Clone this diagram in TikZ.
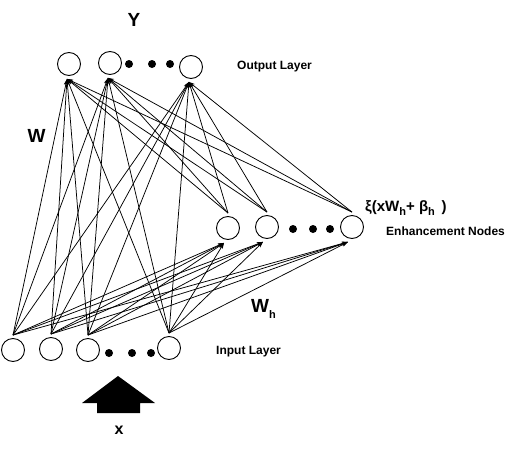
\documentclass[tikz,border=0pt]{standalone}
\usepackage{fontspec}
\setmainfont{Liberation Sans}
\usetikzlibrary{arrows.meta}
\newcommand\mysub[1]{\raisebox{-0.3em}{\fontsize{11}{11}\selectfont #1}}
\begin{document}
\begin{tikzpicture}[x=1pt,y=-1pt,
  neuron/.style={circle,draw,line width=0.9pt,minimum size=23pt,inner sep=0pt},
  dotn/.style={circle,fill,inner sep=0pt,minimum size=8pt},
  link/.style={line width=0.75pt,-{Stealth[length=6pt,width=4pt]}},
  lbl/.style={font=\bfseries\fontsize{12}{13}\selectfont,inner sep=0pt},
  big/.style={font=\bfseries\fontsize{19}{20}\selectfont,inner sep=0pt}]
\useasboundingbox (0,0) rectangle (525,450);
% output layer
\node[neuron] (o1) at (69,64) {};
\node[neuron] (o2) at (110,63) {};
\node[neuron] (o3) at (191,67) {};
\node[dotn] (od1) at (129,64) {};
\node[dotn] (od2) at (152,64) {};
\node[dotn] (od3) at (170,64) {};
% enhancement nodes
\node[neuron] (e1) at (228,228) {};
\node[neuron] (e2) at (267,227) {};
\node[neuron] (e3) at (352,227) {};
\node[dotn] (ed1) at (293,229) {};
\node[dotn] (ed2) at (313,229) {};
\node[dotn] (ed3) at (330,229) {};
% input layer
\node[neuron] (i1) at (13,350) {};
\node[neuron] (i2) at (51,349) {};
\node[neuron] (i3) at (88,350) {};
\node[neuron] (i4) at (169,348) {};
\node[dotn] (id1) at (109,353) {};
\node[dotn] (id2) at (132,353) {};
\node[dotn] (id3) at (151,353) {};
% connection points
\foreach \k in {1,...,4} \coordinate (it\k) at ([yshift=3pt]i\k.north);
\foreach \k in {1,2,3} {
  \coordinate (ob\k) at ([xshift=-2pt,yshift=-3pt]o\k.south);
  \coordinate (et\k) at ([yshift=3pt]e\k.north);
  \coordinate (eb\k) at ([xshift=-4pt,yshift=-3pt]e\k.south);
}
% links
\foreach \k in {1,...,4} \foreach \m in {1,2,3} {
  \draw[link] (it\k) -- (ob\m);
  \draw[link] (it\k) -- (eb\m);
}
\foreach \k in {1,2,3} \foreach \m in {1,2,3}
  \draw[link] (et\k) -- (ob\m);
% input arrow
\fill (118,376) -- (155,403) -- (140,403) -- (140,413) -- (97,413) -- (97,403) -- (82,403) -- cycle;
% labels
\node[big] (ly) at (134,20) {Y};
\node[lbl,anchor=west] (lout) at (237,67) {Output Layer};
\node[big] (lw) at (36.5,136) {W};
\node[font=\bfseries\fontsize{15}{16}\selectfont,inner sep=0pt,anchor=west] (lxi) at (365,208) {ξ(xW\mysub{h}+ β\mysub{h} \,)};
\node[lbl,anchor=west] (lenh) at (386,231) {Enhancement Nodes};
\node[big,anchor=west] (lwh) at (251,309) {W\mysub{h}};
\node[lbl,anchor=west] (lin) at (216,352) {Input Layer};
\node[font=\bfseries\fontsize{16}{17}\selectfont,inner sep=0pt] (lx) at (119,430) {x};
\end{tikzpicture}
\end{document}
